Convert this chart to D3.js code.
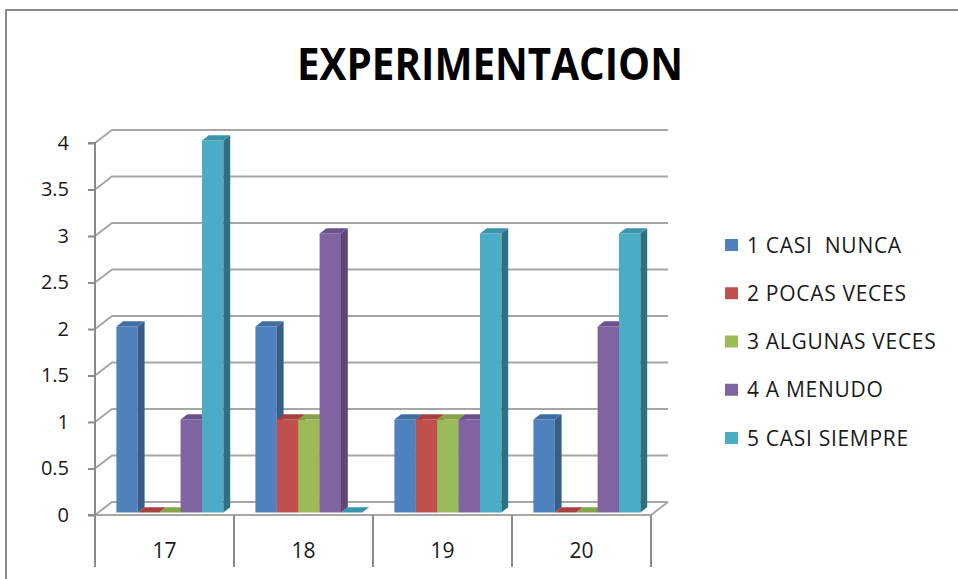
<!DOCTYPE html>
<html>
<head>
<meta charset="utf-8">
<script src="https://cdn.jsdelivr.net/npm/d3@7"></script>
<style>
  body { margin: 0; background: #fff; }
  text { font-family: "Open Sans", "Noto Sans", sans-serif; fill: #1a1a1a; }
</style>
</head>
<body>
<div id="chart"></div>
<script>
const svgWidth = 958;
const svgHeight = 579;

// Data
const categories = ['17', '18', '19', '20'];
const seriesNames = ['1 CASI  NUNCA', '2 POCAS VECES', '3 ALGUNAS VECES', '4 A MENUDO', '5 CASI SIEMPRE'];
const casiNunca = [2, 2, 1, 1];
const pocasVeces = [0, 1, 1, 0];
const algunasVeces = [0, 1, 1, 0];
const aMenudo = [1, 3, 1, 2];
const casiSiempre = [4, 0, 3, 3];
const yTicks = [0, 0.5, 1, 1.5, 2, 2.5, 3, 3.5, 4];

const seriesValues = [casiNunca, pocasVeces, algunasVeces, aMenudo, casiSiempre];
const colors = {
  front: ['#4f81bd', '#c0504d', '#9bbb59', '#8064a2', '#4bacc6'],
  side:  ['#385d8a', '#8c3836', '#71893f', '#5c4776', '#2f7080'],
  top:   ['#3f6ea5', '#a8403d', '#86a34a', '#6c528c', '#3a94ab'],
};

// plot geometry (front plane) and depth offset
const plot = { left: 95, right: 651, bottom: 515, top: 143 };
const depth = { dx: 17, dy: -13 };
const barD0 = 0.2, barD1 = 0.6;

const svg = d3.select('#chart').append('svg').attr('width', svgWidth).attr('height', svgHeight);
svg.append('rect').attr('width', svgWidth).attr('height', svgHeight).attr('fill', '#fff');

// chart area border
svg.append('path')
  .attr('d', `M6,${svgHeight} L6,10 L${svgWidth},10`)
  .attr('fill', 'none').attr('stroke', '#8a8a8a').attr('stroke-width', 2);

const yScale = d3.scaleLinear().domain([0, 4]).range([plot.bottom, plot.top]);
const xScale = d3.scaleBand().domain(categories).range([plot.left, plot.right]);
const innerScale = d3.scaleBand().domain(seriesNames).range([18, 125]);

const proj = (x, y, d) => [x + depth.dx * d, y + depth.dy * d];
const poly = pts => 'M' + pts.map(p => p.join(',')).join('L') + 'Z';

// side wall + back wall gridlines
const grid = svg.append('g').attr('stroke', '#a6a6a6').attr('stroke-width', 2).attr('fill', 'none');
yTicks.forEach(t => {
  const y = yScale(t);
  const b0 = proj(plot.left, y, 1);
  const b1 = proj(plot.right, y, 1);
  grid.append('path').attr('d', `M${plot.left},${y}L${b0[0]},${b0[1]}L${b1[0]},${b1[1]}`);
});
// floor front edge and right edge
const fr = proj(plot.right, plot.bottom, 1);
grid.append('path').attr('d', `M${plot.left},${plot.bottom}L${plot.right},${plot.bottom}L${fr[0]},${fr[1]}`);

// y axis
const yAxis = svg.append('g')
  .attr('transform', `translate(${plot.left},0)`)
  .call(d3.axisLeft(yScale).tickValues(yTicks).tickSize(7).tickPadding(19).tickFormat(d3.format('')));
yAxis.select('.domain').attr('stroke', '#8a8a8a').attr('stroke-width', 2).attr('d', `M-7,${plot.top}H0V${plot.bottom}H-7`);
yAxis.selectAll('.tick line').attr('stroke', '#8a8a8a').attr('stroke-width', 2);
yAxis.selectAll('.tick text').style('font-size', '20px').attr('fill', '#1a1a1a');

// x axis: category separators and labels
const xAxis = svg.append('g')
  .attr('transform', `translate(0,${plot.bottom})`)
  .call(d3.axisBottom(xScale).tickSize(0).tickPadding(28));
xAxis.select('.domain').remove();
xAxis.selectAll('.tick text').style('font-size', '21px').attr('fill', '#1a1a1a');
const bounds = categories.map(c => xScale(c)).concat([plot.right]);
svg.append('g').selectAll('line').data(bounds).join('line')
  .attr('x1', d => d).attr('x2', d => d)
  .attr('y1', plot.bottom).attr('y2', 567)
  .attr('stroke', '#8a8a8a').attr('stroke-width', 2);

// 3D bars
const bars = svg.append('g');
categories.forEach((c, ci) => {
  seriesNames.forEach((s, si) => {
    const v = seriesValues[si][ci];
    const x0 = xScale(c) + innerScale(s);
    const x1 = x0 + innerScale.bandwidth();
    const yv = yScale(v);
    const y0 = yScale(0);
    const g = bars.append('g');
    g.append('path')
      .attr('d', poly([proj(x0, yv, barD0), proj(x1, yv, barD0), proj(x1, y0, barD0), proj(x0, y0, barD0)]))
      .attr('fill', colors.front[si]);
    g.append('path')
      .attr('d', poly([proj(x1, y0, barD0), proj(x1, y0, barD1), proj(x1, yv, barD1), proj(x1, yv, barD0)]))
      .attr('fill', colors.side[si]);
    g.append('path')
      .attr('d', poly([proj(x0, yv, barD0), proj(x1, yv, barD0), proj(x1, yv, barD1), proj(x0, yv, barD1)]))
      .attr('fill', colors.top[si]);
  });
});

// title
svg.append('text')
  .attr('x', 490)
  .attr('y', 80)
  .attr('text-anchor', 'middle')
  .attr('textLength', 386)
  .attr('lengthAdjust', 'spacingAndGlyphs')
  .style('font-size', '44px')
  .style('font-weight', 'bold')
  .style('fill', '#000')
  .text('EXPERIMENTACION');

// legend
const legendY = d3.scalePoint().domain(seriesNames).range([245, 438]);
const legend = svg.append('g');
seriesNames.forEach((s, i) => {
  legend.append('rect')
    .attr('x', 725).attr('y', legendY(s) - 6)
    .attr('width', 13).attr('height', 12)
    .attr('fill', colors.front[i]);
  legend.append('text')
    .attr('x', 747).attr('y', legendY(s) + 7.5)
    .style('font-size', '21px')
    .style('letter-spacing', '0.7px')
    .style('white-space', 'pre')
    .attr('xml:space', 'preserve')
    .text(s);
});
</script>
</body>
</html>
